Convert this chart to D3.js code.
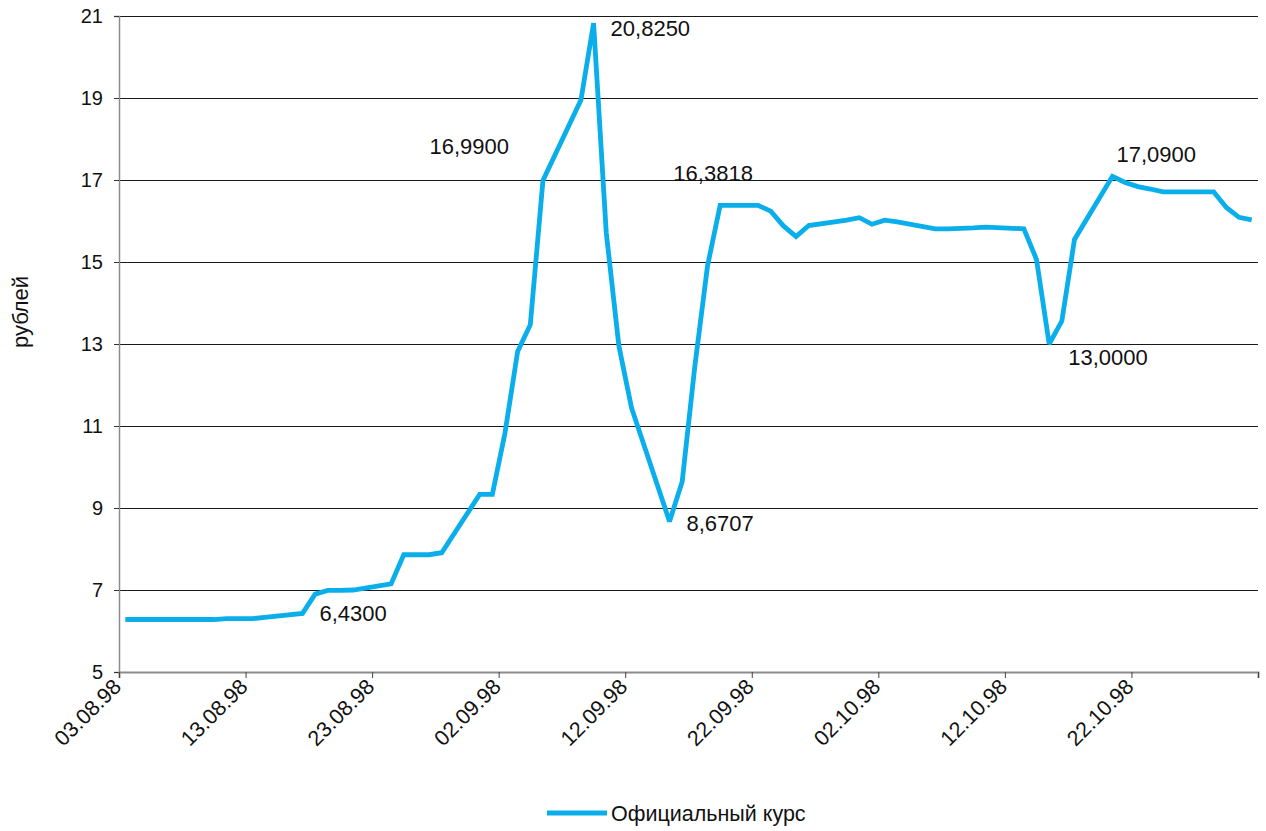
<!DOCTYPE html>
<html>
<head>
<meta charset="utf-8">
<script src="https://cdn.jsdelivr.net/npm/d3@7"></script>
<style>
  html, body { margin: 0; padding: 0; background: #fff; }
  svg { display: block; font-family: "Liberation Sans", Arial, sans-serif; }
</style>
</head>
<body>
<svg id="chart" width="1266" height="831"></svg>
<script>
// ---- data ----
const dates = [
  "03.08.98","04.08.98","05.08.98","06.08.98","07.08.98",
  "10.08.98","11.08.98","12.08.98","13.08.98","14.08.98",
  "17.08.98","18.08.98","19.08.98","20.08.98","21.08.98",
  "24.08.98","25.08.98","26.08.98","27.08.98","28.08.98",
  "31.08.98","01.09.98","02.09.98","03.09.98","04.09.98","05.09.98",
  "08.09.98","09.09.98","10.09.98","11.09.98","12.09.98",
  "15.09.98","16.09.98","17.09.98","18.09.98","19.09.98",
  "22.09.98","23.09.98","24.09.98","25.09.98","26.09.98",
  "29.09.98","30.09.98","01.10.98","02.10.98","03.10.98",
  "06.10.98","07.10.98","08.10.98","09.10.98","10.10.98",
  "13.10.98","14.10.98","15.10.98","16.10.98","17.10.98",
  "20.10.98","21.10.98","22.10.98","23.10.98","24.10.98",
  "27.10.98","28.10.98","29.10.98","30.10.98","31.10.98"
];
const rates = [
  6.28, 6.28, 6.28, 6.28, 6.28,
  6.28, 6.30, 6.30, 6.30, 6.33,
  6.43, 6.90, 6.99, 6.99, 7.00,
  7.15, 7.86, 7.86, 7.86, 7.91,
  9.33, 9.33, 10.83, 12.82, 13.47, 16.99,
  18.95, 20.825, 15.72, 12.95, 11.44,
  8.6707, 9.64, 12.46, 14.90, 16.3818,
  16.3818, 16.24, 15.88, 15.62, 15.89,
  16.02, 16.08, 15.92, 16.02, 15.98,
  15.81, 15.81, 15.82, 15.83, 15.85,
  15.81, 15.06, 13.00, 13.56, 15.55,
  17.09, 16.94, 16.84, 16.78, 16.71,
  16.71, 16.71, 16.33, 16.09, 16.03
];
const labelDates = ["17.08.98","05.09.98","09.09.98","15.09.98","19.09.98","15.10.98","20.10.98"];
const labelTexts = ["6,4300","16,9900","20,8250","8,6707","16,3818","13,0000","17,0900"];
const yTicks = [5, 7, 9, 11, 13, 15, 17, 19, 21];
const xTickDates = ["03.08.98","13.08.98","23.08.98","02.09.98","12.09.98","22.09.98","02.10.98","12.10.98","22.10.98","01.11.98"];
const xTickShown = ["03.08.98","13.08.98","23.08.98","02.09.98","12.09.98","22.09.98","02.10.98","12.10.98","22.10.98"];
const seriesName = "Официальный курс";
const yTitle = "рублей";

// ---- layout ----
const parse = d3.timeParse("%d.%m.%y");
const fmt = d3.timeFormat("%d.%m.%y");
const noon = d => d3.timeHour.offset(parse(d), 12);
const svg = d3.select("#chart");
const X0 = 119, X1 = 1258, Y0 = 672, Y1 = 16;
const x = d3.scaleTime().domain([parse("03.08.98"), parse("01.11.98")]).range([X0, X1]);
const y = d3.scaleLinear().domain([5, 21]).range([Y0, Y1]);
const data = dates.map((d, i) => ({ t: noon(d), v: rates[i], key: d }));

// gridlines
svg.append("g")
  .selectAll("line").data(yTicks.filter(v => v !== 5)).join("line")
  .attr("x1", X0).attr("x2", X1)
  .attr("y1", d => y(d)).attr("y2", d => y(d))
  .attr("stroke", "#1a1a1a").attr("stroke-width", 1).attr("shape-rendering", "crispEdges");

// y axis
const yAxis = svg.append("g").attr("transform", `translate(${X0},0)`)
  .call(d3.axisLeft(y).tickValues(yTicks).tickSize(5).tickPadding(11).tickFormat(d3.format("d")));
yAxis.select(".domain").attr("stroke", "#8c8c8c").attr("stroke-width", 1.5);
yAxis.selectAll(".tick line").attr("stroke", "#333");
yAxis.selectAll("text").attr("font-size", 20).attr("fill", "#111")
  .attr("font-family", "'Liberation Sans', Arial, sans-serif");

// x axis
const xAxis = svg.append("g").attr("transform", `translate(0,${Y0})`)
  .call(d3.axisBottom(x).tickValues(xTickDates.map(parse)).tickSize(6)
    .tickFormat(d => xTickShown.includes(fmt(d)) ? fmt(d) : ""));
xAxis.select(".domain").attr("stroke", "#8c8c8c").attr("stroke-width", 2);
xAxis.selectAll(".tick line").attr("stroke", "#444");
xAxis.selectAll("text")
  .attr("font-size", 21.5).attr("fill", "#111")
  .attr("font-family", "'Liberation Sans', Arial, sans-serif")
  .attr("text-anchor", "end")
  .attr("dy", null).attr("y", 0)
  .attr("transform", "translate(3,16) rotate(-45)");

// y title
svg.append("text")
  .attr("transform", `translate(28,312) rotate(-90)`)
  .attr("text-anchor", "middle")
  .attr("font-size", 22).attr("fill", "#111")
  .text(yTitle);

// line
svg.append("path").datum(data)
  .attr("fill", "none").attr("stroke", "#0aaeea").attr("stroke-width", 4.8)
  .attr("stroke-linejoin", "miter").attr("stroke-miterlimit", 3)
  .attr("d", d3.line().x(d => x(d.t)).y(d => y(d.v)));

// data labels
const labelOffsets = {
  "17.08.98": [17, 8, "start"],
  "05.09.98": [-34, -26, "end"],
  "09.09.98": [17, 13, "start"],
  "15.09.98": [17, 9, "start"],
  "19.09.98": [-7, -24, "middle"],
  "15.10.98": [19, 21, "start"],
  "20.10.98": [4, -14, "start"]
};
labelDates.forEach((d, i) => {
  const p = data.find(e => e.key === d);
  const o = labelOffsets[d];
  svg.append("text")
    .attr("x", x(p.t) + o[0]).attr("y", y(p.v) + o[1])
    .attr("text-anchor", o[2])
    .attr("font-size", 22).attr("fill", "#111")
    .text(labelTexts[i]);
});

// legend
const lg = svg.append("g").attr("transform", "translate(547,813)");
lg.append("line").attr("x1", 0).attr("x2", 60).attr("y1", 0).attr("y2", 0)
  .attr("stroke", "#0aaeea").attr("stroke-width", 5);
lg.append("text").attr("x", 64).attr("y", 7.5)
  .attr("font-size", 21.5).attr("fill", "#111").text(seriesName);
</script>
</body>
</html>
